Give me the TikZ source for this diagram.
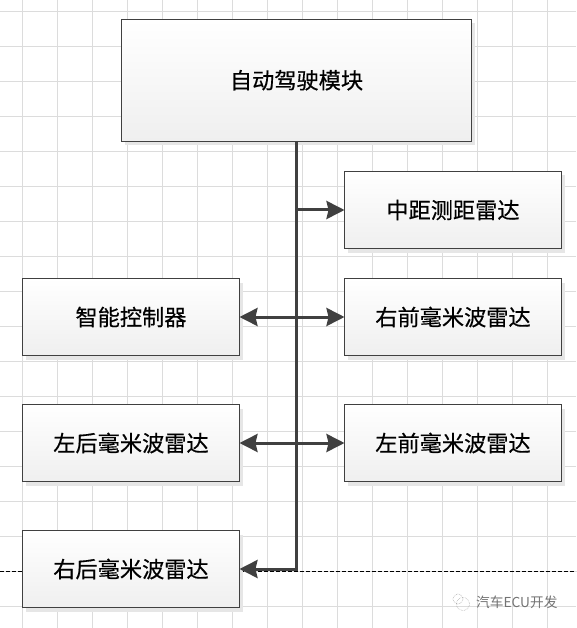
\documentclass[tikz,border=0pt]{standalone}
\usepackage{fontspec}
\newfontfamily\cjk{Noto Sans CJK SC}
\newfontfamily\cjkheavy[FakeBold=0.5]{Noto Sans CJK SC}
\usetikzlibrary{arrows.meta,shadows}
\definecolor{gridc}{HTML}{DCDCDC}
\definecolor{linec}{HTML}{404040}
\definecolor{shadc}{HTML}{E6E6E6}
\definecolor{EFc}{HTML}{EFEFEF}
\newcommand{\lift}[1]{\raisebox{0.8pt}{#1}}
\tikzset{
  box/.style={draw=linec,line width=0.9pt,top color=white,bottom color=EFc,
    inner sep=0pt,outer sep=0pt,font=\cjkheavy\fontsize{22.2}{24}\selectfont,text=black,
    drop shadow={shadow xshift=3.5pt,shadow yshift=-4pt,fill=shadc,opacity=1}},
  smallbox/.style={box,minimum width=217pt,minimum height=77pt},
  bus/.style={draw=linec,line width=3pt},
  tip/.style={-{Stealth[length=18pt,width=18pt,inset=2pt]}},
  tips/.style={{Stealth[length=18pt,width=18pt,inset=2pt]}-{Stealth[length=18pt,width=18pt,inset=2pt]}},
  wm/.style={draw=gridc!70!black,line width=0.5pt,densely dotted}
}
\begin{document}
\begin{tikzpicture}[x=1pt,y=-1pt]
\useasboundingbox (0,0) rectangle (576,628);
\fill[white] (0,0) rectangle (576,628);
\foreach \k in {0,...,15} \draw[gridc,line width=1pt] ({22.5+35*\k},0) -- ({22.5+35*\k},628);
\foreach \k in {0,...,17} \draw[gridc,line width=1pt] (0,{11.5+35*\k}) -- (576,{11.5+35*\k});
\coordinate (dl) at (0,571.5);
\coordinate (dr) at (576,571.5);
\draw[black,line width=0.8pt,dash pattern=on 4pt off 2pt] (dl) -- (dr);

\node[box,minimum width=350pt,minimum height=121.5pt] (main) at (296.5,80.25) {\lift{自动驾驶模块}};
\node[smallbox] (mid) at (453,210) {\lift{中距测距雷达}};
\node[smallbox] (ctrl) at (131,317) {\lift{智能控制器}};
\node[smallbox] (rf) at (453,317) {\lift{右前毫米波雷达}};
\node[smallbox] (lr) at (131,443) {\lift{左后毫米波雷达}};
\node[smallbox] (lf) at (453,443) {\lift{左前毫米波雷达}};
\node[smallbox] (rr) at (131,569) {\lift{右后毫米波雷达}};

\draw[bus,tip] (main.south) |- (rr.east);
\draw[bus,tip] (main.south |- mid.west) -- (mid.west);
\draw[bus,tips] (ctrl.east) -- (rf.west);
\draw[bus,tips] (lr.east) -- (lf.west);

\node[font=\cjk\fontsize{13.7}{16}\selectfont,text=black!55,anchor=west,inner sep=0pt] (wmtext) at (476,602) {汽车ECU开发};
\node[wm,circle,minimum size=10pt,inner sep=0pt] (wma) at (458,599) {};
\node[wm,circle,minimum size=13pt,inner sep=0pt] (wmb) at (463,604) {};
\end{tikzpicture}
\end{document}
